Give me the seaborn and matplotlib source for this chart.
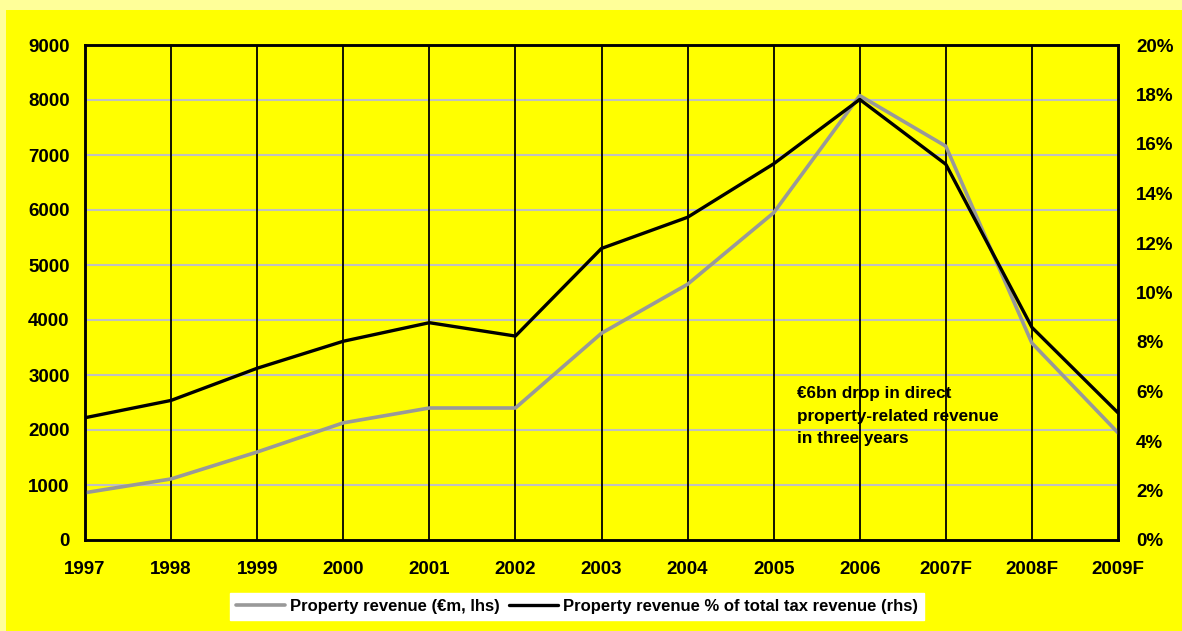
import matplotlib
matplotlib.use("Agg")
import matplotlib.pyplot as plt
import seaborn as sns
import pandas as pd
from matplotlib.patches import Rectangle
from matplotlib.ticker import FuncFormatter, MultipleLocator

years = ["1997", "1998", "1999", "2000", "2001", "2002", "2003", "2004",
         "2005", "2006", "2007F", "2008F", "2009F"]
property_revenue = [860, 1110, 1600, 2130, 2400, 2400, 3760, 4650,
                    5950, 8080, 7160, 3580, 1950]
property_share = [4.94, 5.64, 6.94, 8.03, 8.78, 8.24, 11.78, 13.04,
                  15.2, 17.8, 15.18, 8.59, 5.14]

df = pd.DataFrame({"pos": range(len(years)), "year": years,
                   "rev": property_revenue, "share": property_share})

sns.set_theme(style="white")
plt.rcParams["font.family"] = ["Liberation Sans", "DejaVu Sans"]
plt.rcParams["font.weight"] = "bold"
plt.rcParams["text.color"] = "black"
plt.rcParams["xtick.color"] = "black"
plt.rcParams["ytick.color"] = "black"

W, H = 1182, 631
fig = plt.figure(figsize=(W / 100, H / 100), dpi=100, facecolor="#FFFF99")
fig.patches.append(Rectangle((6 / W, 0), 1 - 6 / W, 1 - 10 / H,
                             transform=fig.transFigure, facecolor="#FFFF00",
                             edgecolor="none", zorder=-10))

ax = fig.add_axes([85 / W, (H - 540) / H, (1118 - 85) / W, (540 - 45) / H])
ax.set_facecolor("#FFFF00")
ax2 = ax.twinx()

# gridlines
for v in range(1000, 9000, 1000):
    ax.axhline(v, color="#C0C0C0", lw=1.5, zorder=1)
for p in df["pos"][1:-1]:
    ax.axvline(p, color="black", lw=1.3, zorder=1)

sns.lineplot(data=df, x="pos", y="rev", ax=ax, color="#999999", lw=2.6,
             zorder=3, legend=False)
sns.lineplot(data=df, x="pos", y="share", ax=ax2, color="black", lw=2.4,
             zorder=3, legend=False)

ax.set_xlim(0, len(years) - 1)
ax.set_ylim(0, 9000)
ax2.set_ylim(0, 20)
ax.set_xticks(df["pos"])
ax.set_xticklabels(years)
ax.yaxis.set_major_locator(MultipleLocator(1000))
ax2.yaxis.set_major_locator(MultipleLocator(2))
ax2.yaxis.set_major_formatter(FuncFormatter(lambda v, _: f"{v:.0f}%"))
ax.set_xlabel("")
ax.set_ylabel("")
ax2.set_ylabel("")

for a in (ax, ax2):
    for s in a.spines.values():
        s.set_color("black")
        s.set_linewidth(1.8)
ax.tick_params(axis="x", length=0, pad=15, labelsize=13.5)
ax.tick_params(axis="y", length=0, pad=11, labelsize=13.5)
ax2.tick_params(axis="y", length=0, pad=13, labelsize=13.5)
for lab in ax.get_xticklabels() + ax.get_yticklabels() + ax2.get_yticklabels():
    lab.set_fontweight("bold")
    lab.set_color("black")

ax.text(8.27, (540 - 416) / 55 * 1000,
        "€6bn drop in direct\nproperty-related revenue\nin three years",
        fontsize=12.3, fontweight="bold", ha="left", va="center",
        linespacing=1.6, zorder=5, color="black")

h1, = ax.plot([], [], color="#999999", lw=2.6)
h2, = ax.plot([], [], color="black", lw=2.4)
leg = fig.legend([h1, h2], ["Property revenue (€m, lhs)",
                            "Property revenue % of total tax revenue (rhs)"],
                 loc="center", bbox_to_anchor=(577 / W, 1 - 606.5 / H),
                 ncol=2, frameon=True, fancybox=False, framealpha=1,
                 edgecolor="white", facecolor="white", handlelength=2.9,
                 handletextpad=0.3, columnspacing=0.6, borderpad=0.35,
                 prop={"family": ["Liberation Sans"],
                       "weight": "bold", "size": 12})
for t in leg.get_texts():
    t.set_color("black")

fig.savefig("out.png", dpi=100, facecolor=fig.get_facecolor())
